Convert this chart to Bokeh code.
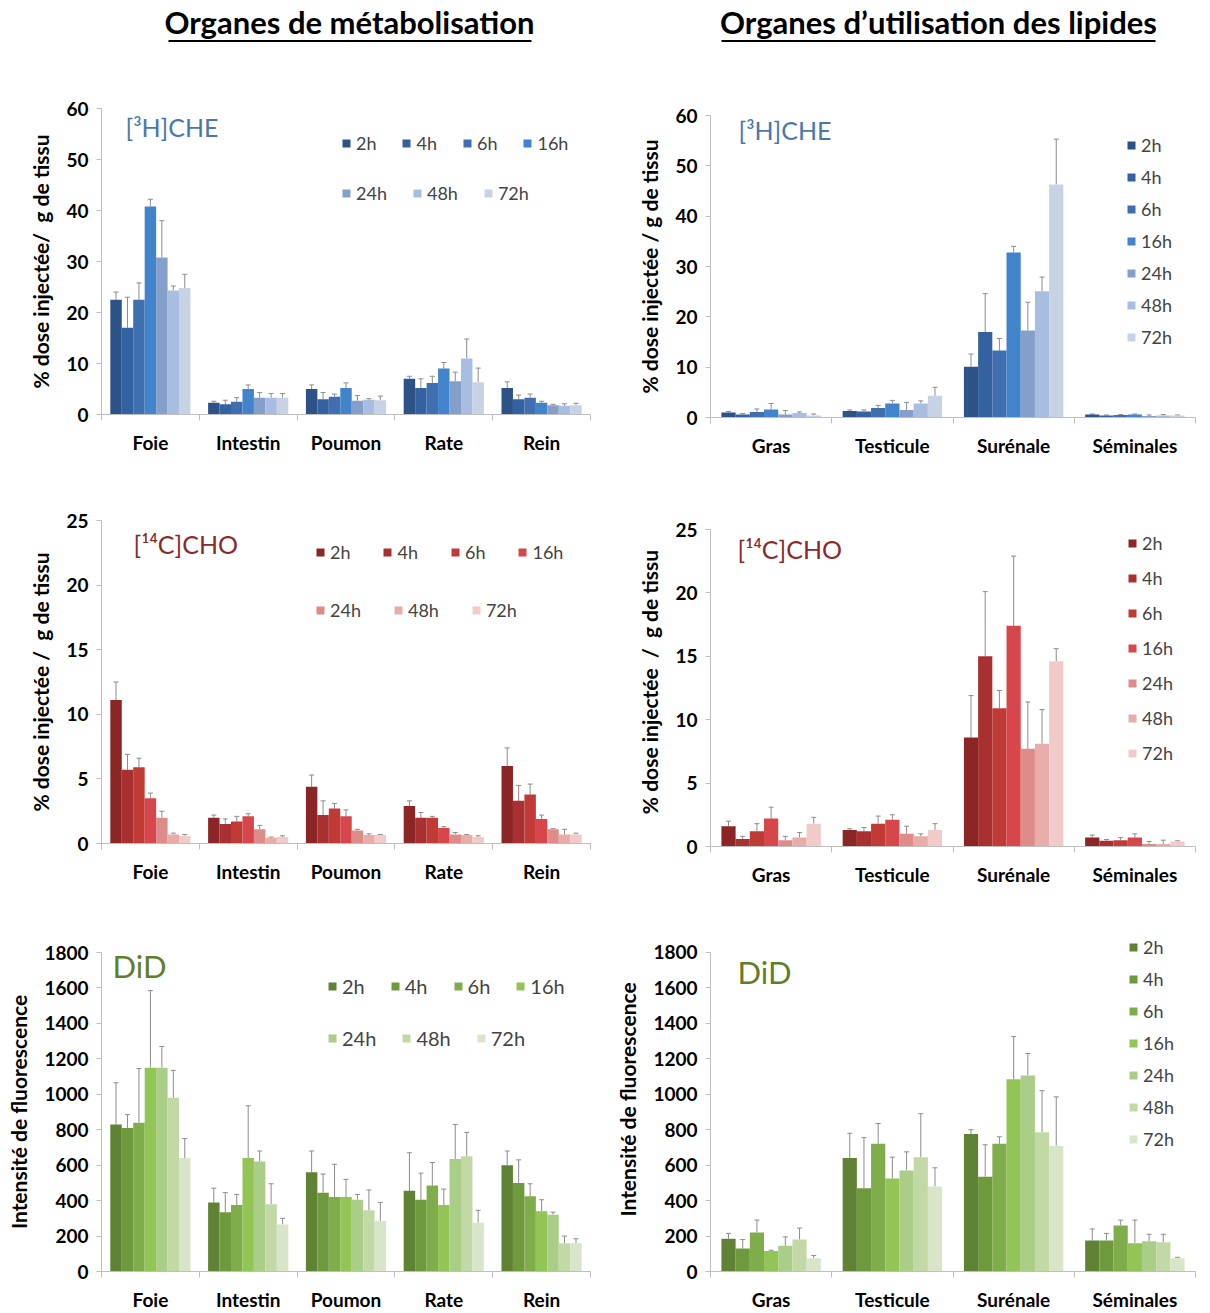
from bokeh.plotting import figure
from bokeh.models import (Range1d, FixedTicker, ColumnDataSource, Whisker, TeeHead,
                          Legend, LegendItem, Label, BoxAnnotation)
from bokeh.layouts import column, row
from bokeh.embed import file_html
from bokeh.resources import INLINE

# ---------------- data ----------------
times = ["2h", "4h", "6h", "16h", "24h", "48h", "72h"]
organes_metab = ["Foie", "Intestin", "Poumon", "Rate", "Rein"]
organes_lip = ["Gras", "Testicule", "Surénale", "Séminales"]

# [3H]CHE - organes de métabolisation (mean, sd)  rows = organ, cols = time
che_metab_mean = [[22.5, 17.0, 22.5, 40.8, 30.8, 24.3, 24.8],
                  [2.3, 2.0, 2.5, 5.0, 3.3, 3.3, 3.3],
                  [5.0, 3.0, 3.5, 5.2, 2.7, 2.9, 2.8],
                  [7.0, 5.2, 6.2, 9.0, 6.5, 11.0, 6.3],
                  [5.2, 3.0, 3.3, 2.3, 1.8, 1.7, 1.8]]
che_metab_err = [[1.5, 6.0, 3.3, 1.4, 7.2, 0.9, 2.7],
                 [0.3, 0.8, 0.8, 0.8, 1.0, 0.8, 0.8],
                 [0.8, 1.3, 0.5, 1.0, 1.0, 0.2, 0.8],
                 [0.5, 1.8, 1.3, 1.2, 1.8, 3.8, 2.8],
                 [1.2, 0.8, 0.7, 0.3, 0.2, 0.4, 0.4]]

# [3H]CHE - organes d'utilisation des lipides
che_lip_mean = [[1.0, 0.6, 1.1, 1.6, 0.6, 0.9, 0.4],
                [1.3, 1.2, 1.9, 2.8, 1.5, 2.8, 4.3],
                [10.1, 17.0, 13.3, 32.8, 17.3, 25.1, 46.3],
                [0.6, 0.4, 0.5, 0.6, 0.3, 0.4, 0.4]]
che_lip_err = [[0.2, 0.2, 0.6, 1.2, 0.8, 0.2, 0.3],
               [0.2, 0.3, 0.5, 0.6, 1.5, 0.5, 1.7],
               [2.5, 7.6, 2.4, 1.2, 5.6, 2.8, 9.0],
               [0.1, 0.1, 0.1, 0.1, 0.2, 0.2, 0.1]]

# [14C]CHO - organes de métabolisation
cho_metab_mean = [[11.1, 5.7, 5.9, 3.5, 2.0, 0.7, 0.6],
                  [2.0, 1.5, 1.7, 2.1, 1.1, 0.45, 0.5],
                  [4.4, 2.2, 2.7, 2.1, 1.0, 0.65, 0.65],
                  [2.9, 2.0, 2.0, 1.2, 0.7, 0.65, 0.5],
                  [6.0, 3.3, 3.8, 1.9, 1.1, 0.7, 0.7]]
cho_metab_err = [[1.4, 1.2, 0.7, 0.4, 0.5, 0.1, 0.1],
                 [0.2, 0.4, 0.4, 0.2, 0.3, 0.05, 0.1],
                 [0.9, 1.1, 0.4, 0.5, 0.1, 0.1, 0.05],
                 [0.4, 0.4, 0.1, 0.1, 0.15, 0.05, 0.1],
                 [1.4, 1.2, 0.8, 0.3, 0.05, 0.4, 0.1]]

# [14C]CHO - organes d'utilisation des lipides
cho_lip_mean = [[1.6, 0.6, 1.2, 2.2, 0.5, 0.7, 1.8],
                [1.3, 1.2, 1.8, 2.1, 1.0, 0.8, 1.3],
                [8.6, 15.0, 10.9, 17.4, 7.7, 8.1, 14.6],
                [0.7, 0.45, 0.5, 0.7, 0.2, 0.2, 0.4]]
cho_lip_err = [[0.4, 0.2, 0.6, 0.9, 0.3, 0.4, 0.5],
               [0.1, 0.3, 0.6, 0.4, 0.6, 0.2, 0.5],
               [3.3, 5.1, 1.4, 5.5, 3.7, 2.7, 1.0],
               [0.2, 0.1, 0.2, 0.3, 0.2, 0.3, 0.05]]

# DiD - organes de métabolisation
did_metab_mean = [[830, 810, 840, 1150, 1150, 980, 640],
                  [390, 335, 375, 640, 620, 380, 265],
                  [560, 445, 420, 420, 405, 345, 285],
                  [455, 405, 485, 375, 635, 650, 275],
                  [600, 500, 425, 340, 320, 160, 160]]
did_metab_err = [[235, 75, 305, 435, 120, 155, 110],
                 [80, 110, 60, 295, 60, 115, 35],
                 [120, 105, 185, 100, 30, 115, 105],
                 [215, 150, 130, 90, 195, 135, 70],
                 [80, 130, 70, 65, 15, 40, 25]]

# DiD - organes d'utilisation des lipides
did_lip_mean = [[185, 130, 220, 115, 145, 180, 75],
                [640, 470, 720, 525, 570, 645, 480],
                [775, 535, 720, 1085, 1105, 785, 710],
                [175, 175, 260, 160, 170, 165, 75]]
did_lip_err = [[30, 50, 70, 5, 50, 65, 15],
               [140, 285, 115, 120, 105, 245, 105],
               [25, 180, 40, 240, 125, 235, 275],
               [65, 40, 30, 130, 40, 45, 5]]

blues = ["#2d5288", "#3461a0", "#3f6fae", "#4284cc", "#849fc9", "#a8bddf", "#c8d2e5"]
reds = ["#8c2626", "#a83030", "#c03a36", "#d7464a", "#dd8c8a", "#e8aca9", "#f0cbc9"]
greens = ["#5f8234", "#6f993d", "#80ad4b", "#93c556", "#aacd88", "#c2d9a6", "#d9e5c9"]

FONT = "Lato"
AXIS_GRAY = "#bfbfbf"
ERR_GRAY = "#8c8c8c"
GROUP = 0.82


def panel(cats, means, errs, colors, ymax, ystep, ylabel, tag, tag_color, tag_xy,
          tag_size, size, borders, legends, legend_font="18px", ext=0):
    n = len(cats)
    left, right, top, bottom = borders
    frame_h = size[1] - top - bottom
    # extra room above the axis top (ext px) so that a legend is not clipped
    y_end = ymax * (frame_h + ext) / frame_h
    p = figure(width=size[0], height=size[1], x_range=Range1d(0, n),
               y_range=Range1d(0, y_end), output_backend="svg", toolbar_location=None,
               min_border_left=left, min_border_right=right,
               min_border_top=top - ext, min_border_bottom=bottom)
    p.xgrid.visible = False
    p.ygrid.visible = False
    p.outline_line_color = None
    p.background_fill_color = "white"
    p.border_fill_color = "white"

    w = GROUP / len(times)
    start = (1 - GROUP) / 2
    renderers = []
    for k, t in enumerate(times):
        xs = [i + start + w * (k + 0.5) for i in range(n)]
        tops = [means[i][k] for i in range(n)]
        ups = [means[i][k] + errs[i][k] for i in range(n)]
        src = ColumnDataSource(dict(x=xs, top=tops, upper=ups))
        r = p.vbar(x="x", top="top", width=w, bottom=0, source=src,
                   fill_color=colors[k], line_color=None)
        renderers.append(r)
        wh = Whisker(base="x", upper="upper", lower="top", source=src,
                     line_color=ERR_GRAY, line_width=1,
                     upper_head=TeeHead(size=5, line_color=ERR_GRAY, line_width=1),
                     lower_head=None)
        p.add_layout(wh)

    # x axis : labels at category centres, tick marks at boundaries
    xa = p.xaxis[0]
    xa.ticker = FixedTicker(ticks=[i + 0.5 for i in range(n)],
                            minor_ticks=list(range(n + 1)))
    xa.major_label_overrides = {i + 0.5: c for i, c in enumerate(cats)}
    xa.major_tick_line_color = None
    xa.minor_tick_in = 0
    xa.minor_tick_out = 6
    xa.minor_tick_line_color = AXIS_GRAY
    xa.axis_line_color = AXIS_GRAY
    xa.major_label_text_font = FONT
    xa.major_label_text_font_style = "bold"
    xa.major_label_text_font_size = "19px"
    xa.major_label_text_color = "black"
    xa.major_label_standoff = 10

    ya = p.yaxis[0]
    ya.ticker = FixedTicker(ticks=list(range(0, ymax + 1, ystep)))
    ya.bounds = (0, ymax)
    ya.minor_tick_line_color = None
    ya.major_tick_in = 0
    ya.major_tick_out = 5
    ya.major_tick_line_color = AXIS_GRAY
    ya.axis_line_color = AXIS_GRAY
    ya.major_label_text_font = FONT
    ya.major_label_text_font_style = "bold"
    ya.major_label_text_font_size = "19px"
    ya.major_label_text_color = "black"
    ya.major_label_standoff = 8
    ya.axis_label = ylabel
    ya.axis_label_text_font = FONT
    ya.axis_label_text_font_style = "bold"
    ya.axis_label_text_font_size = "21px"
    ya.axis_label_text_color = "black"
    ya.axis_label_standoff = 10

    p.add_layout(Label(x=tag_xy[0], y=tag_xy[1], x_units="screen", y_units="screen",
                       text=tag, text_color=tag_color, text_font=FONT,
                       text_font_size=tag_size, text_baseline="middle"))

    for (loc, idx, orient, spacing) in legends:
        lg = Legend(items=[LegendItem(label=times[k], renderers=[renderers[k]]) for k in idx],
                    location=loc, orientation=orient, spacing=spacing,
                    padding=0, margin=0, border_line_color=None,
                    background_fill_alpha=0, glyph_width=10, glyph_height=10,
                    label_standoff=5, label_text_font=FONT,
                    label_text_font_size=legend_font, label_height=20,
                    label_text_baseline="middle")
        p.add_layout(lg)
    return p


# ---------------- title strip ----------------
tf = figure(width=1210, height=60, x_range=Range1d(0, 1210), y_range=Range1d(0, 60),
            output_backend="svg", toolbar_location=None, min_border=0)
tf.axis.visible = False
tf.grid.visible = False
tf.outline_line_color = None
for cx, txt, x0, x1 in [(349, "Organes de métabolisation", 168, 531),
                        (938, "Organes d\u2019utilisation des lipides", 721, 1155)]:
    tf.add_layout(Label(x=cx, y=39, text=txt, text_align="center", text_baseline="middle",
                        text_font=FONT, text_font_style="bold", text_font_size="31px",
                        text_color="black"))
    tf.add_layout(BoxAnnotation(left=x0, right=x1, bottom=18.5, top=20.5,
                                fill_color="black", fill_alpha=1, line_color=None))

ylab1 = "% dose injectée/\u00a0 g de tissu"
ylab2 = "% dose injectée / g de tissu"
ylab3 = "% dose injectée /\u00a0 g de tissu"
ylab4 = "% dose injectée\u00a0 /\u00a0 g de tissu"
ylab5 = "Intensité de fluorescence"

p1 = panel(organes_metab, che_metab_mean, che_metab_err, blues, 60, 10, ylab1,
           "[\u00b3H]CHE", "#4a78ae", (24, 288), "25px", (605, 420), (101, 15, 48, 66),
           [((240, 260), [0, 1, 2, 3], "horizontal", 25),
            ((240, 210), [4, 5, 6], "horizontal", 25)])
p2 = panel(organes_lip, che_lip_mean, che_lip_err, blues, 60, 10, ylab2,
           "[\u00b3H]CHE", "#4a78ae", (28, 288), "25px", (605, 420), (103, 15, 55, 63),
           [((416, 69), list(range(7)), "vertical", 10)])
p3 = panel(organes_metab, cho_metab_mean, cho_metab_err, reds, 25, 5, ylab3,
           "[\u00b9\u2074C]CHO", "#8a2a2a", (32, 300), "25px", (605, 425), (101, 15, 40, 62),
           [((214, 280), [0, 1, 2, 3], "horizontal", 32),
            ((214, 222), [4, 5, 6], "horizontal", 32)])
p4 = panel(organes_lip, cho_lip_mean, cho_lip_err, reds, 25, 5, ylab4,
           "[\u00b9\u2074C]CHO", "#8a2a2a", (27, 298), "25px", (605, 425), (105, 15, 49, 59),
           [((417, 82), list(range(7)), "vertical", 13)], ext=12)
p5 = panel(organes_metab, did_metab_mean, did_metab_err, greens, 1800, 200, ylab5,
           "DiD", "#5f7f2a", (11, 306), "31px", (605, 408), (101, 15, 47, 40),
           [((226, 273), [0, 1, 2, 3], "horizontal", 25),
            ((226, 221), [4, 5, 6], "horizontal", 25)], legend_font="20px")
p6 = panel(organes_lip, did_lip_mean, did_lip_err, greens, 1800, 200, ylab5,
           "DiD", "#5f7f2a", (27, 300), "31px", (605, 408), (105, 15, 47, 41),
           [((418, 121), list(range(7)), "vertical", 10)], ext=25)

layout = column(tf, row(column(p1, p3, p5), column(p2, p4, p6)))

with open("out.html", "w") as f:
    f.write(file_html(layout, INLINE))
